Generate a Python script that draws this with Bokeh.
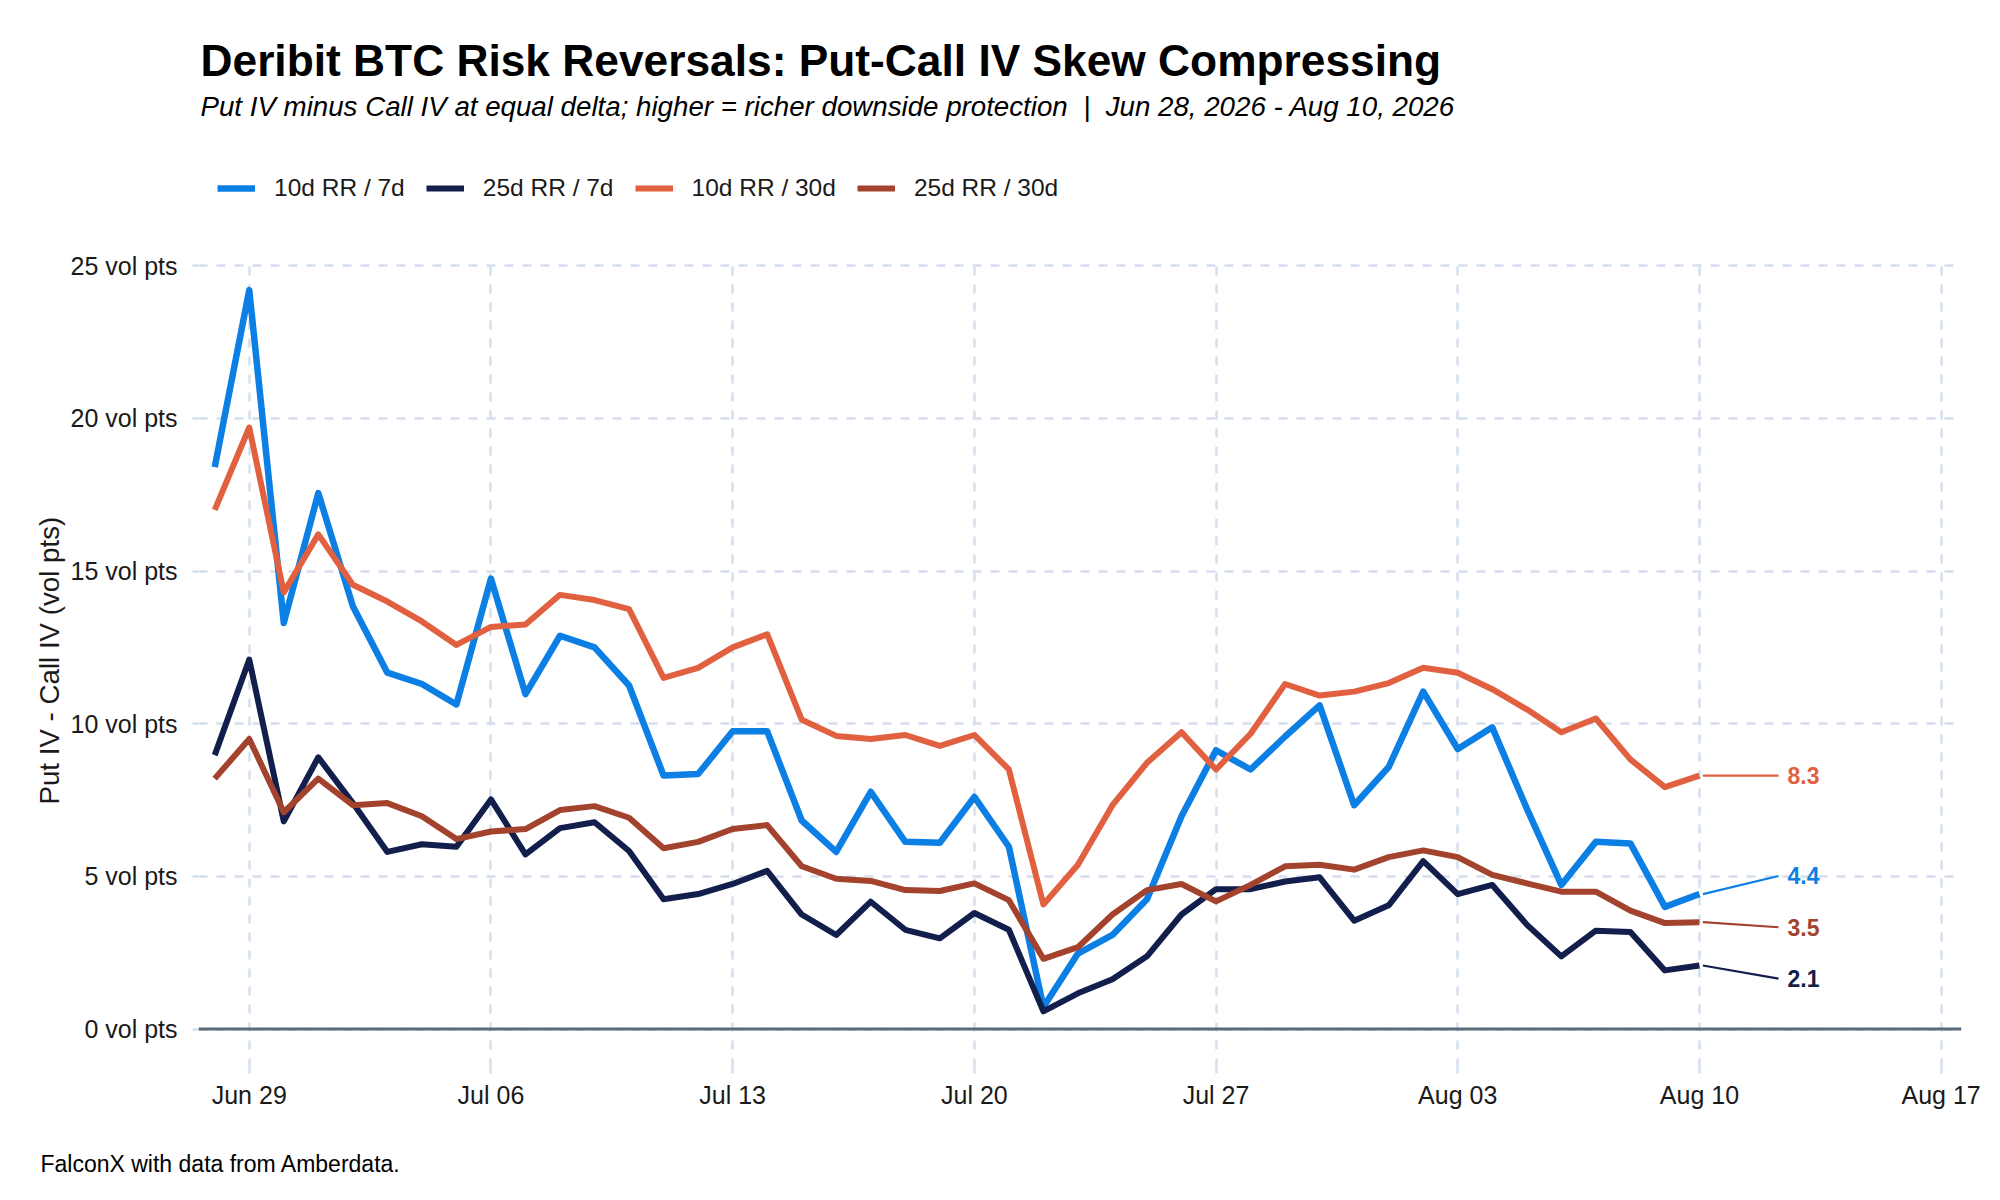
import datetime as dt
from bokeh.plotting import figure
from bokeh.models import (Range1d, FixedTicker, DatetimeTickFormatter, PrintfTickFormatter,
                          Legend, LegendItem, Title, Label, ColumnDataSource, Span, BoxAnnotation)
from bokeh.core.properties import value
from bokeh.embed import file_html
from bokeh.resources import INLINE

# ---------------- data ----------------
start_date = dt.datetime(2026, 6, 28)
n_days = 44
dates = [start_date + dt.timedelta(days=i) for i in range(n_days)]

series_names = ["10d RR / 7d", "25d RR / 7d", "10d RR / 30d", "25d RR / 30d"]

rr10_7d = [18.4, 24.2, 13.3, 17.55, 13.85, 11.67, 11.3, 10.63, 14.75, 10.97, 12.88, 12.5,
           11.25, 8.3, 8.35, 9.75, 9.75, 6.83, 5.8, 7.77, 6.13, 6.1, 7.6,
           5.97, 0.72, 2.47, 3.08, 4.25, 6.97, 9.13, 8.5, 9.58, 10.6, 7.33,
           8.58, 11.05, 9.17, 9.88, 7.22, 4.72, 6.13, 6.08, 4.0, 4.42]
rr25_7d = [8.97, 12.1, 6.8, 8.9, 7.4, 5.8, 6.05, 5.97, 7.52, 5.72, 6.58, 6.77,
           5.83, 4.25, 4.42, 4.75, 5.18, 3.75, 3.08, 4.17, 3.25, 2.97, 3.8,
           3.25, 0.58, 1.17, 1.63, 2.38, 3.75, 4.58, 4.58, 4.83, 4.97, 3.55,
           4.05, 5.5, 4.42, 4.72, 3.42, 2.38, 3.22, 3.18, 1.92, 2.08]
rr10_30d = [17.0, 19.7, 14.3, 16.2, 14.55, 14.0, 13.35, 12.58, 13.17, 13.25, 14.22, 14.05,
            13.75, 11.5, 11.83, 12.5, 12.93, 10.13, 9.6, 9.5, 9.63, 9.27, 9.63,
            8.5, 4.08, 5.38, 7.33, 8.72, 9.72, 8.5, 9.67, 11.3, 10.92, 11.05,
            11.33, 11.83, 11.67, 11.13, 10.47, 9.72, 10.17, 8.83, 7.92, 8.3]
rr25_30d = [8.2, 9.5, 7.1, 8.2, 7.33, 7.4, 6.97, 6.22, 6.47, 6.55, 7.17, 7.3,
            6.92, 5.92, 6.13, 6.55, 6.68, 5.33, 4.92, 4.85, 4.55, 4.52, 4.77,
            4.22, 2.3, 2.68, 3.75, 4.55, 4.75, 4.18, 4.72, 5.33, 5.38, 5.22,
            5.63, 5.85, 5.63, 5.05, 4.77, 4.5, 4.5, 3.88, 3.47, 3.5]

y_ticks = [0, 5, 10, 15, 20, 25]
x_tick_dates = [dt.datetime(2026, 6, 29) + dt.timedelta(days=7 * k) for k in range(8)]

TITLE = "Deribit BTC Risk Reversals: Put-Call IV Skew Compressing"
SUBTITLE = ("Put IV minus Call IV at equal delta; higher = richer downside protection"
            "\u00a0\u00a0|\u00a0\u00a0Jun 28, 2026 - Aug 10, 2026")
Y_LABEL = "Put IV - Call IV (vol pts)"
CAPTION = "FalconX with data from Amberdata."

# ---------------- style ----------------
colors = ["#0b7fe4", "#121e4b", "#e0603f", "#a3432e"]
line_widths = [6.5, 6.0, 6.0, 6.0]
FONT = "Liberation Sans"
GRID = "#d5dfee"
TXT = "#1a1a1a"

W, H = 1984, 1184
ML, MR, MB = 198, 23, 117          # frame spans from the canvas top to the x axis
Y_LO, Y_HI = -1.26, 25.17          # data window of the panel
PANEL_TOP = 260                    # pixel row where the data panel starts
DAY_MS = 86400000.0

frame_h = H - MB
px_per_unit = (frame_h - PANEL_TOP) / (Y_HI - Y_LO)
y_top = Y_HI + PANEL_TOP / px_per_unit


def ms(d):
    return (d - dt.datetime(1970, 1, 1)).total_seconds() * 1000.0


p = figure(width=W, height=H, output_backend="svg", toolbar_location=None,
           x_axis_type="datetime",
           x_range=Range1d(ms(start_date) - 0.47 * DAY_MS, ms(start_date) + 50.59 * DAY_MS),
           y_range=Range1d(Y_LO, y_top),
           min_border_left=ML, min_border_right=MR, min_border_top=0, min_border_bottom=MB)
p.title.text = ""
p.outline_line_color = None
p.background_fill_color = "white"
p.border_fill_color = "white"

# grids
p.xgrid.ticker = FixedTicker(ticks=[ms(d) for d in x_tick_dates])
p.ygrid.ticker = FixedTicker(ticks=y_ticks)
for g in (p.xgrid, p.ygrid):
    g.grid_line_color = GRID
    g.grid_line_width = 2.5
    g.grid_line_dash = "9 9"

# axes
p.xaxis.ticker = FixedTicker(ticks=[ms(d) for d in x_tick_dates])
p.xaxis.formatter = DatetimeTickFormatter(days="%b %d", months="%b %d", years="%b %d",
                                          hours="%b %d", minutes="%b %d", seconds="%b %d",
                                          milliseconds="%b %d", microseconds="%b %d",
                                          minsec="%b %d", hourmin="%b %d")
p.yaxis.ticker = FixedTicker(ticks=y_ticks)
p.yaxis.formatter = PrintfTickFormatter(format="%d vol pts")
p.yaxis.bounds = (Y_LO, Y_HI)
for ax in (p.xaxis[0], p.yaxis[0]):
    ax.axis_line_color = None
    ax.major_tick_line_color = GRID
    ax.major_tick_line_width = 2.5
    ax.major_tick_out = 6
    ax.major_tick_in = 0
    ax.minor_tick_line_color = None
    ax.major_label_text_font = FONT
    ax.major_label_text_font_size = "25px"
    ax.major_label_text_color = TXT
p.xaxis.major_label_standoff = 7
p.yaxis.major_label_standoff = 15

# y axis title, centred on the data panel (frame extends into the header)
p.add_layout(Title(text=Y_LABEL, text_font=FONT, text_font_size="27.7px", text_font_style="normal",
                   text_color=TXT, align="left", offset=263, standoff=5), "left")

# lines
all_series = [rr10_7d, rr25_7d, rr10_30d, rr25_30d]
src = ColumnDataSource(dict(date=dates, s0=rr10_7d, s1=rr25_7d, s2=rr10_30d, s3=rr25_30d))
renderers = []
for k in range(4):
    r = p.line("date", f"s{k}", source=src, line_color=colors[k], line_width=line_widths[k],
               line_join="round")
    renderers.append(r)

p.add_layout(Span(location=0, dimension="width", line_color="#5a6a78", line_width=3))


# end labels with simple repulsion
def repel(vals, gap):
    idx = sorted(range(len(vals)), key=lambda k: vals[k])
    clusters = [[k] for k in idx]

    def place(c):
        m = sum(vals[k] for k in c) / len(c)
        return [m + (j - (len(c) - 1) / 2.0) * gap for j in range(len(c))]

    changed = True
    while changed:
        changed = False
        for a in range(len(clusters) - 1):
            pa, pb = place(clusters[a]), place(clusters[a + 1])
            if pb[0] - pa[-1] < gap:
                clusters[a] = clusters[a] + clusters[a + 1]
                del clusters[a + 1]
                changed = True
                break
    out = [0.0] * len(vals)
    for c in clusters:
        for k, y in zip(c, place(c)):
            out[k] = y
    return out


last_vals = [s[-1] for s in all_series]
label_y = repel(last_vals, 1.68)
last_ms = ms(dates[-1])
p.segment(x0=[last_ms + 0.1 * DAY_MS] * 4, y0=last_vals,
          x1=[last_ms + 2.29 * DAY_MS] * 4, y1=label_y,
          line_color=colors, line_width=2.2)
p.text(x=[last_ms + 2.55 * DAY_MS] * 4, y=label_y,
       text=[f"{v:.1f}" for v in last_vals], text_color=colors,
       text_font=value(FONT), text_font_size="23px", text_font_style="bold",
       text_baseline="middle", text_align="left")

# white header band above the data panel (hides grid lines there)
p.add_layout(BoxAnnotation(bottom=Y_HI, fill_color="white", fill_alpha=1.0,
                           line_alpha=0, level="annotation"))

# legend
legend = Legend(items=[LegendItem(label=series_names[k], renderers=[renderers[k]]) for k in range(4)],
                orientation="horizontal", location=(19, frame_h - 188 - 14), padding=0, margin=0,
                spacing=21, label_standoff=19, glyph_width=38, glyph_height=28, label_height=28,
                label_text_font=FONT, label_text_font_size="24.5px", label_text_color=TXT,
                border_line_color=None, background_fill_alpha=0)
p.add_layout(legend)

# title and subtitle
p.add_layout(Label(x=2, y=frame_h - 60, x_units="screen", y_units="screen", text=TITLE,
                   text_font=FONT, text_font_size="44.3px", text_font_style="bold",
                   text_color="black", text_baseline="alphabetic"))
p.add_layout(Label(x=2, y=frame_h - 106, x_units="screen", y_units="screen", text=SUBTITLE,
                   text_font=FONT, text_font_size="27.7px", text_font_style="italic",
                   text_color="black", text_baseline="alphabetic"))

# caption below the x axis (a blank spacer title keeps it at the right distance)
p.add_layout(Title(text=" ", text_font=FONT, text_font_size="26px", standoff=0), "below")
p.add_layout(Title(text=CAPTION, text_font=FONT, text_font_size="23px", text_font_style="normal",
                   text_color="black", align="left", offset=40 - ML, standoff=10), "below")

open("out.html", "w").write(file_html(p, INLINE))
